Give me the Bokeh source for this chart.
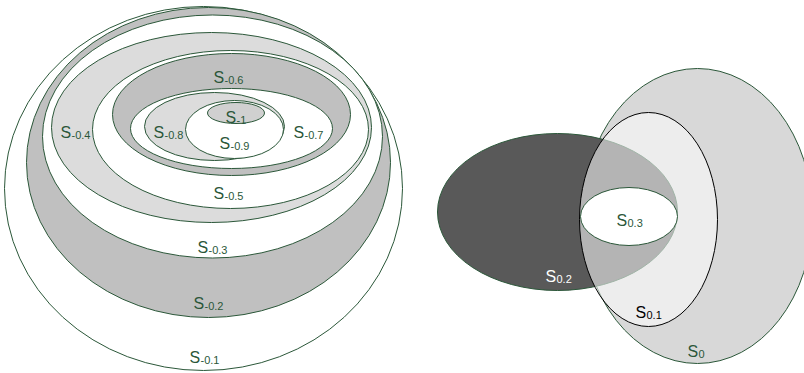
from bokeh.plotting import figure
from bokeh.models import Range1d, ColumnDataSource
from bokeh.core.properties import value
from bokeh.embed import file_html
from bokeh.resources import INLINE

# ---- data: nested sets (left diagram), pixel-space geometry
left_names = ["-0.1", "-0.2", "-0.3", "-0.4", "-0.5", "-0.6", "-0.7", "-0.8", "-0.9", "-1"]
left_cx = [203, 208, 212, 211, 230, 231, 231, 214, 234, 235.5]
left_cy = [188, 162, 136, 127, 129, 114, 128, 126, 129, 112.5]
left_w = [398, 364, 340, 320, 276, 238, 202, 140, 98, 57]
left_h = [364, 310, 243, 190, 158, 122, 80, 68, 58, 21]
left_lab_x = [189, 193, 197, 60, 213, 213, 293, 153, 219, 225]
left_lab_y = [357, 303, 247, 132, 193, 77, 132, 132, 143, 117]

# ---- data: right diagram
right_names = ["0", "0.2", "0.1", "0.3"]
right_cx = [697, 557, 648, 628.5]
right_cy = [215.5, 211.5, 219, 216]
right_w = [230, 240, 138, 97]
right_h = [295, 157, 214, 58]
right_lab_x = [687, 545, 635, 616]
right_lab_y = [351, 276, 312, 220]

# ---- styles
GREEN = "#2b5739"
left_fill = ["#ffffff", "#c0c0c0", "#ffffff", "#dcdcdc", "#ffffff",
             "#c0c0c0", "#ffffff", "#dcdcdc", "#ffffff", "#d0d0d0"]
right_fill = ["#d8d8d8", "#595959", "#ffffff", "#ffffff"]
right_alpha = [1.0, 1.0, 0.55, 1.0]
right_line = [GREEN, GREEN, "#000000", GREEN]
right_text = [GREEN, "#ffffff", "#000000", GREEN]

W, H = 804, 373
p = figure(width=W, height=H, output_backend="svg", toolbar_location=None,
           x_range=Range1d(0, W), y_range=Range1d(H, 0),
           x_axis_location=None, y_axis_location=None, min_border=0,
           outline_line_color=None, background_fill_color="white")
p.xgrid.visible = False
p.ygrid.visible = False

left_src = ColumnDataSource(dict(x=left_cx, y=left_cy, w=left_w, h=left_h, fill=left_fill))
p.ellipse(x="x", y="y", width="w", height="h", source=left_src,
          fill_color="fill", line_color=GREEN, line_width=1)

right_src = ColumnDataSource(dict(x=right_cx, y=right_cy, w=right_w, h=right_h,
                                  fill=right_fill, fa=right_alpha, lc=right_line))
p.ellipse(x="x", y="y", width="w", height="h", source=right_src,
          fill_color="fill", fill_alpha="fa", line_color="lc", line_width=1)

FONT = value("Liberation Sans")
lab_src = ColumnDataSource(dict(
    x=left_lab_x + right_lab_x,
    y=left_lab_y + right_lab_y,
    s=["S"] * (len(left_names) + len(right_names)),
    sub=left_names + right_names,
    c=[GREEN] * len(left_names) + right_text,
))
p.text(x="x", y="y", text="s", source=lab_src, text_font=FONT, text_font_size="16px",
       text_align="left", text_baseline="alphabetic", text_color="c")
p.text(x="x", y="y", text="sub", source=lab_src, text_font=FONT, text_font_size="11px",
       text_align="left", text_baseline="alphabetic", text_color="c",
       x_offset=11, y_offset=2)

open("out.html", "w").write(file_html(p, INLINE))
